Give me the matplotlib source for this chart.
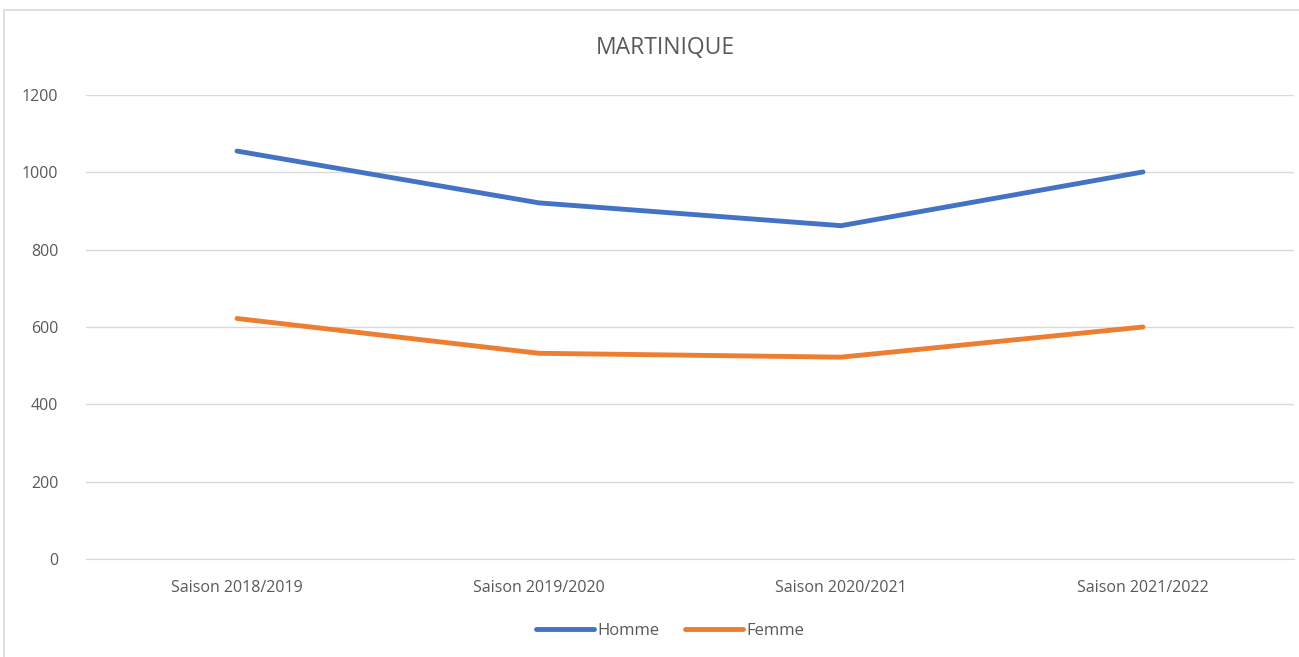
import matplotlib
matplotlib.use("Agg")
import matplotlib.pyplot as plt
from matplotlib.patches import Rectangle

saisons = ["Saison 2018/2019", "Saison 2019/2020", "Saison 2020/2021", "Saison 2021/2022"]
homme = [1055, 921, 862, 1001]
femme = [622, 532, 522, 600]
yticks = [0, 200, 400, 600, 800, 1000, 1200]

plt.rcParams['font.family'] = ['Open Sans', 'DejaVu Sans']
gris = "#595959"

fig = plt.figure(figsize=(12.99, 6.57), dpi=100)
fig.patches.append(Rectangle((4 / 1299, -0.01), 1.2, 1 - 10 / 657 + 0.01,
                             transform=fig.transFigure, fill=False,
                             edgecolor="#d9d9d9", lw=1.2))
ax = fig.add_axes([86 / 1299, 1 - 559 / 657, 1208 / 1299, 464 / 657])

x = range(len(saisons))
ax.plot(x, homme, color="#4472c4", lw=3.5, solid_capstyle="round", label="Homme")
ax.plot(x, femme, color="#ed7d31", lw=3.5, solid_capstyle="round", label="Femme")

ax.set_xlim(-0.5, 3.5)
ax.set_ylim(0, 1200)
ax.set_yticks(yticks)
ax.set_xticks(list(x))
ax.set_xticklabels(saisons)
ax.grid(axis="y", color="#d9d9d9", lw=1)
ax.set_axisbelow(True)
for s in ["top", "right", "left"]:
    ax.spines[s].set_visible(False)
ax.spines["bottom"].set_color("#d9d9d9")
ax.tick_params(length=0, colors=gris, labelsize=11.5)
ax.tick_params(axis="y", pad=20)
ax.tick_params(axis="x", pad=15)

fig.text(665 / 1299, 1 - 48 / 657, "MARTINIQUE", ha="center", va="center",
         fontsize=16.5, color=gris)
fig.legend(loc="center", bbox_to_anchor=(670 / 1299, 1 - 631 / 657), ncol=2,
           frameon=False, fontsize=12, labelcolor=gris, handlelength=3.5,
           handletextpad=0.2, columnspacing=1.5)

fig.savefig("out.png", dpi=100)
